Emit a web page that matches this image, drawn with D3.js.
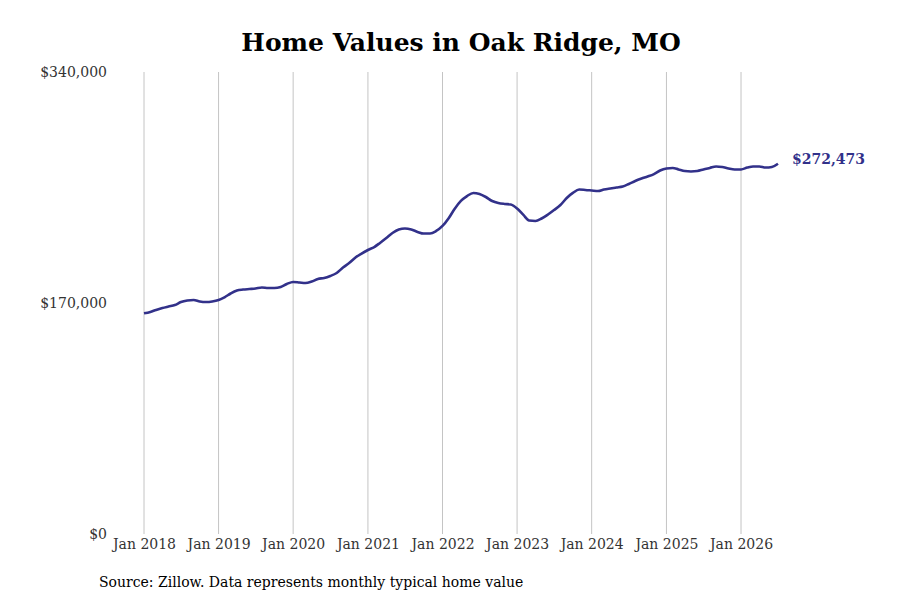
<!DOCTYPE html>
<html>
<head>
<meta charset="utf-8">
<script src="https://cdn.jsdelivr.net/npm/d3@7"></script>
<style>
  body { margin: 0; background: #fff; }
  text { font-family: "DejaVu Serif", serif; }
</style>
</head>
<body>
<script>
// Monthly typical home value, Jan 2018 onward
const startMonth = "2018-01";
const values = [
  162400, 163400, 164900, 166300, 167400, 168500, 170700, 171800, 172200, 171100, 170700, 171100,
  172200, 174400, 177000, 179200, 179900, 180300, 180700, 181400, 181000, 181000, 181800, 184000,
  185500, 185100, 184700, 185800, 187700, 188400, 189900, 192100, 196100, 199400, 203500, 206400,
  209000, 211200, 214200, 217800, 221500, 224100, 224800, 224100, 222300, 221100, 221100, 223000,
  226700, 232600, 239200, 245100, 248700, 251000, 250200, 248000, 245100, 243600, 242900, 242500,
  239600, 234800, 230700, 230400, 232200, 235100, 238400, 242100, 247300, 251000, 253500, 253200,
  252800, 252400, 253500, 254300, 255000, 255700, 257600, 259800, 261600, 263100, 264900, 267500,
  269000, 269400, 268300, 267100, 266800, 267100, 268300, 269400, 270500, 270100, 269000, 268300,
  268300, 269700, 270500, 270500, 269700, 270100, 272473
];
const yTicks = [0, 170000, 340000];
const xTickYears = [2018, 2019, 2020, 2021, 2022, 2023, 2024, 2025, 2026];

const width = 900;
const height = 600;
const margin = { top: 72, right: 122, bottom: 66, left: 144 };

const parseMonth = d3.timeParse("%Y-%m");
const start = parseMonth(startMonth);
const data = values.map((v, i) => ({ date: d3.timeMonth.offset(start, i), value: v }));

const x = d3.scaleTime()
  .domain(d3.extent(data, d => d.date))
  .range([margin.left, width - margin.right]);

const y = d3.scaleLinear()
  .domain([0, 340000])
  .range([height - margin.bottom, margin.top]);

const svg = d3.select("body").append("svg")
  .attr("width", width)
  .attr("height", height);

// title
svg.append("text")
  .attr("x", width / 2 + 11)
  .attr("y", 51)
  .attr("text-anchor", "middle")
  .style("font-size", "25px")
  .style("font-weight", "bold")
  .attr("fill", "#000")
  .text("Home Values in Oak Ridge, MO");

// vertical gridlines
const xTicks = xTickYears.map(yr => new Date(yr, 0, 1));
svg.append("g")
  .selectAll("line")
  .data(xTicks)
  .join("line")
  .attr("x1", d => x(d))
  .attr("x2", d => x(d))
  .attr("y1", margin.top)
  .attr("y2", height - margin.bottom)
  .attr("stroke", "#c4c4c4")
  .attr("stroke-width", 1);

// x axis labels
const xAxis = d3.axisBottom(x)
  .tickValues(xTicks)
  .tickFormat(d3.timeFormat("Jan %Y"))
  .tickSize(0)
  .tickPadding(5);

svg.append("g")
  .attr("transform", `translate(0,${height - margin.bottom})`)
  .call(xAxis)
  .call(g => g.select(".domain").remove())
  .call(g => g.selectAll("text")
    .style("font-family", "DejaVu Serif, serif")
    .style("font-size", "14px")
    .attr("fill", "#333"));

// y axis labels
const yAxis = d3.axisLeft(y)
  .tickValues(yTicks)
  .tickFormat(d => "$" + d3.format(",")(d))
  .tickSize(0)
  .tickPadding(37);

svg.append("g")
  .attr("transform", `translate(${margin.left},0)`)
  .call(yAxis)
  .call(g => g.select(".domain").remove())
  .call(g => g.selectAll("text")
    .style("font-family", "DejaVu Serif, serif")
    .style("font-size", "14px")
    .attr("fill", "#333"));

// line
const line = d3.line()
  .x(d => x(d.date))
  .y(d => y(d.value))
  .curve(d3.curveMonotoneX);

svg.append("path")
  .datum(data)
  .attr("fill", "none")
  .attr("stroke", "#32318a")
  .attr("stroke-width", 2.6)
  .attr("d", line);

// end label
const last = data[data.length - 1];
svg.append("text")
  .attr("x", x(last.date) + 14)
  .attr("y", y(last.value) - 5)
  .attr("dy", "0.35em")
  .style("font-size", "14px")
  .style("font-weight", "bold")
  .attr("fill", "#32318a")
  .text("$" + d3.format(",")(last.value));

// source note
svg.append("text")
  .attr("x", 99)
  .attr("y", 587)
  .style("font-size", "14px")
  .attr("fill", "#000")
  .text("Source: Zillow. Data represents monthly typical home value");
</script>
</body>
</html>
